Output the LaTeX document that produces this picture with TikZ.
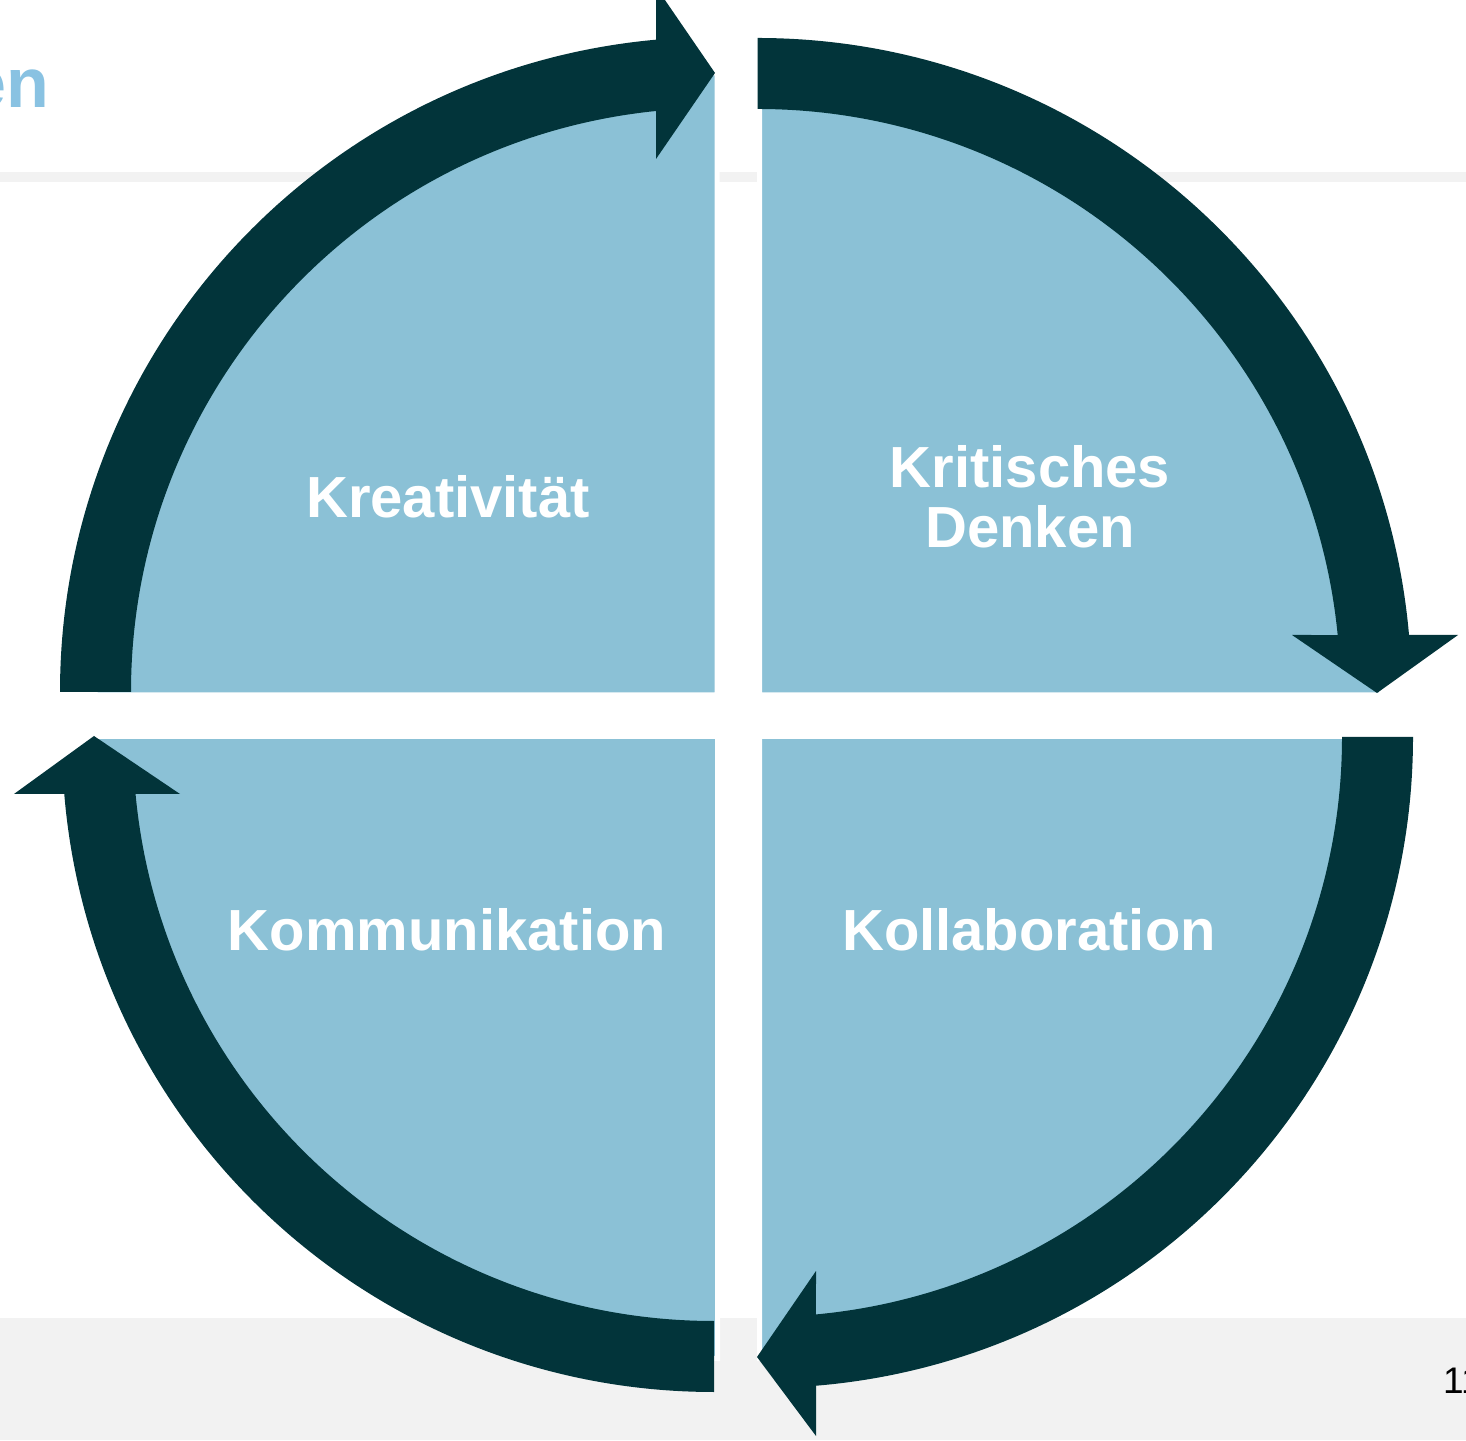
\documentclass[tikz,border=0pt]{standalone}
\usepackage{fontspec}
\setmainfont{Liberation Sans}
\definecolor{ringc}{HTML}{02343A}
\definecolor{piec}{HTML}{8BC1D6}
\definecolor{titlec}{HTML}{89C2E2}
\definecolor{bandc}{HTML}{F2F2F2}
\tikzset{
  pie/.style={fill=piec, draw=white, line width=5pt},
  ring/.style={fill=ringc},
  lbl/.style={text=white, inner sep=0pt, align=center, font=\bfseries\fontsize{58}{60}\selectfont},
  titletext/.style={text=titlec, inner sep=0pt, font=\bfseries\fontsize{70}{76}\selectfont},
  pagenum/.style={text=black, inner sep=0pt, font=\fontsize{37}{40}\selectfont}
}
\begin{document}
\begin{tikzpicture}[x=1pt,y=1pt]
\useasboundingbox (0,0) rectangle (1466,1440);
\clip (0,0) rectangle (1466,1440);
\fill[white] (0,0) rectangle (1466,1440);
% background bands
\fill[bandc] (0,1258) rectangle (1466,1268);
\fill[bandc] (0,0) rectangle (1466,122);
\node[titletext, anchor=base east] (title) at (49,1332) {en};
\node[pagenum, anchor=base west] (page) at (1443,47) {11};
% quadrants
\path[pie] (717,745) -- ++(-622,0) arc[start angle=180,end angle=90,radius=622] -- cycle;
\path[pie] (759.5,745) -- ++(0,622) arc[start angle=90,end angle=0,radius=622] -- cycle;
\path[pie] (759.5,703.5) -- ++(622,0) arc[start angle=0,end angle=-90,radius=622] -- cycle;
\path[pie] (717.5,703.5) -- ++(0,-622) arc[start angle=270,end angle=180,radius=622] -- cycle;
% rings with arrowheads
\begin{scope}[shift={(715,748)}]
  \fill[ring] (180:655) arc[start angle=180,end angle=95.17,radius=655]
    -- (-59,705) -- (0,619) -- (-59,533) -- (95.8:584)
    arc[start angle=95.8,end angle=180,radius=584] -- cycle;
\end{scope}
\begin{scope}[shift={(757.5,748)}]
  \fill[ring] (90:654) arc[start angle=90,end angle=5.0,radius=654]
    -- (700.5,57) -- (619.5,-1) -- (534.5,57) -- (5.61:583)
    arc[start angle=5.61,end angle=90,radius=583] -- cycle;
\end{scope}
\begin{scope}[shift={(762,703)}]
  \fill[ring] (0:651) arc[start angle=0,end angle=-85.24,radius=651]
    -- (54,-699) -- (-5,-620) -- (54,-534) -- (-84.66:580)
    arc[start angle=-84.66,end angle=0,radius=580] -- cycle;
\end{scope}
\begin{scope}[shift={(714,700)}]
  \fill[ring] (270:652) arc[start angle=270,end angle=184.75,radius=652]
    -- (-700,-54) -- (-620,4) -- (-534,-54) -- (185.33:581)
    arc[start angle=185.33,end angle=270,radius=581] -- cycle;
\end{scope}
% labels
\node[lbl, anchor=base] (kreat) at (448,922) {Kreativität};
\node[lbl] (krit) at (1030,943) {Kritisches\\Denken};
\node[lbl, anchor=base] (komm) at (447,489) {Kommunikation};
\node[lbl, anchor=base] (koll) at (1029,489) {Kollaboration};
\end{tikzpicture}
\end{document}
